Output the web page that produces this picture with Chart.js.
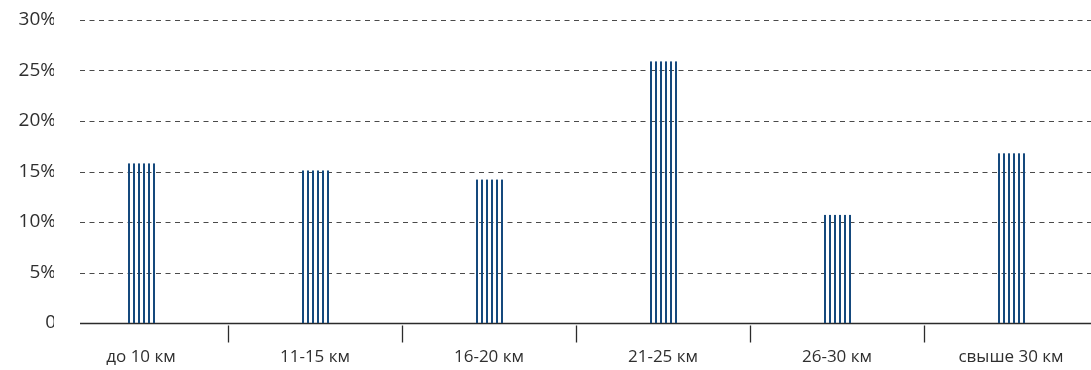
<!DOCTYPE html>
<html lang="ru">
<head>
<meta charset="utf-8">
<title>Распределение по расстоянию</title>
<script src="https://cdn.jsdelivr.net/npm/chart.js@4"></script>
<style>
  html, body { margin: 0; padding: 0; background: #ffffff; overflow: hidden; }
  #wrap { width: 1100px; height: 370px; position: relative; }
</style>
</head>
<body>
<div id="wrap"><canvas id="chart" width="1100" height="370"></canvas></div>
<script>
// Distance groups and their shares, %
const categories = ['до 10 км', '11-15 км', '16-20 км', '21-25 км', '26-30 км', 'свыше 30 км'];
const shares = [15.8, 15.1, 14.2, 25.9, 10.7, 16.8];
const yTicks = [0, 5, 10, 15, 20, 25, 30];

const STRIPE = '#15497d';
const GRID = '#4a4a4a';
const AXIS = '#2b2b2b';
const TEXT = '#2f2f2f';
const GRID_START_X = 80;

// Dashed horizontal guides, the baseline and the separators between groups
const framePlugin = {
  id: 'frame',
  beforeDatasetsDraw(chart) {
    const { ctx, chartArea, scales } = chart;
    const y = scales.y, x = scales.x;
    ctx.save();
    ctx.strokeStyle = GRID;
    ctx.lineWidth = 1;
    ctx.setLineDash([5, 4.5]);
    yTicks.forEach(v => {
      if (v === 0) return;
      const py = Math.round(y.getPixelForValue(v)) + 0.5;
      ctx.beginPath();
      ctx.moveTo(GRID_START_X, py);
      ctx.lineTo(chartArea.right, py);
      ctx.stroke();
    });
    ctx.setLineDash([]);
    const y0 = Math.round(y.getPixelForValue(0)) + 0.5;
    ctx.strokeStyle = AXIS;
    ctx.lineWidth = 1.3;
    ctx.beginPath();
    ctx.moveTo(GRID_START_X, y0);
    ctx.lineTo(chartArea.right, y0);
    ctx.stroke();
    for (let i = 0; i < categories.length - 1; i++) {
      const px = Math.round((x.getPixelForValue(i) + x.getPixelForValue(i + 1)) / 2) + 0.5;
      ctx.beginPath();
      ctx.moveTo(px, y0 + 2);
      ctx.lineTo(px, y0 + 19);
      ctx.stroke();
    }
    ctx.restore();
  }
};

// Bars are filled with thin vertical stripes
const stripePlugin = {
  id: 'stripes',
  afterDatasetsDraw(chart) {
    const { ctx } = chart;
    const meta = chart.getDatasetMeta(0);
    ctx.save();
    ctx.fillStyle = STRIPE;
    meta.data.forEach(bar => {
      const p = bar.getProps(['x', 'y', 'base', 'width'], true);
      const left = p.x - p.width / 2;
      const top = Math.min(p.y, p.base), h = Math.abs(p.base - p.y);
      for (let sx = 0; sx + 2 <= p.width + 0.01; sx += 5) {
        ctx.fillRect(Math.round(left + sx), top, 2, h);
      }
    });
    ctx.restore();
  }
};

new Chart(document.getElementById('chart'), {
  type: 'bar',
  data: {
    labels: categories,
    datasets: [{
      data: shares,
      backgroundColor: 'rgba(0,0,0,0)',
      borderWidth: 0,
      barThickness: 27
    }]
  },
  options: {
    responsive: false,
    animation: false,
    devicePixelRatio: 1,
    layout: { padding: { top: 20, right: 2, left: 0, bottom: 0 } },
    plugins: { legend: { display: false }, tooltip: { enabled: false } },
    scales: {
      x: {
        grid: { display: false, drawTicks: false },
        border: { display: false },
        ticks: {
          color: TEXT,
          padding: 24,
          font: { family: '"Open Sans", "Noto Sans", sans-serif', size: 17 },
          maxRotation: 0
        },
        afterFit(scale) { scale.height = 47; }
      },
      y: {
        min: 0,
        max: 30,
        grid: { display: false, drawTicks: false },
        border: { display: false },
        afterBuildTicks(scale) { scale.ticks = yTicks.map(v => ({ value: v })); },
        afterFit(scale) { scale.width = 54; },
        ticks: {
          color: TEXT,
          padding: -2,
          font: { family: '"Open Sans", "Noto Sans", sans-serif', size: 19 },
          callback: v => (v === 0 ? '0' : v + '%')
        }
      }
    }
  },
  plugins: [framePlugin, stripePlugin]
});
</script>
</body>
</html>
